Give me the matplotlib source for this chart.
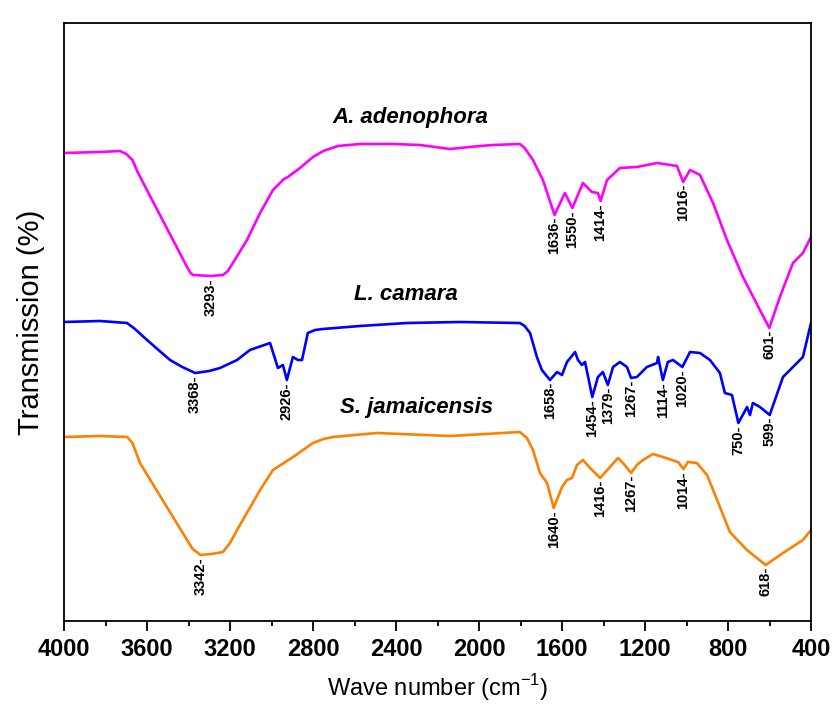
import numpy as np
from matplotlib import pyplot as plt
from matplotlib.ticker import MultipleLocator, NullLocator

plt.rcParams['font.family'] = ['Liberation Sans', 'DejaVu Sans']

# A. adenophora
wn_a = [4000, 3827, 3730, 3700, 3670, 3643, 3407, 3390, 3378, 3293, 3234, 3210, 3186,
        3118, 3055, 2993, 2940, 2921, 2863, 2800, 2750, 2680, 2574, 2415, 2284, 2140,
        1995, 1933, 1803, 1780, 1740, 1692, 1636, 1586, 1550, 1499, 1456, 1427, 1414,
        1383, 1321, 1239, 1142, 1046, 1016, 983, 935, 872, 805, 728, 646, 601, 550,
        487, 439, 400]
t_a = [468, 469, 470, 467, 461, 448, 354, 348, 346, 345, 346, 350, 358,
       381, 408, 431, 442, 444, 453, 464, 470, 475, 477, 477, 476, 472,
       475, 476, 477, 473, 461, 441, 406, 428, 413, 438, 429, 428, 420,
       441, 453, 454, 458, 455, 439, 451, 446, 418, 381, 344, 311, 293, 324,
       358, 368, 384]
peaks_a = [3293, 1636, 1550, 1414, 1016, 601]

# L. camara
wn_l = [4000, 3827, 3696, 3658, 3600, 3489, 3430, 3368, 3300, 3248, 3166, 3104, 3007,
        2969, 2945, 2926, 2897, 2873, 2853, 2825, 2790, 2752, 2574, 2347, 2092, 1803,
        1780, 1754, 1721, 1697, 1658, 1624, 1600, 1576, 1537, 1523, 1504, 1489, 1454,
        1427, 1403, 1379, 1354, 1321, 1287, 1267, 1239, 1191, 1142, 1137, 1114, 1090,
        1065, 1046, 1020, 983, 935, 887, 839, 815, 781, 750, 708, 694, 680, 646, 599,
        535, 487, 439, 400]
t_l = [299, 300, 298, 292, 281, 261, 254, 248, 250, 253, 261, 271, 278,
       253, 256, 241, 264, 261, 261, 288, 291, 292, 295, 298, 299, 298,
       295, 288, 264, 251, 241, 249, 246, 259, 269, 261, 256, 259, 224,
       244, 249, 236, 254, 259, 254, 243, 244, 254, 258, 264, 241, 259,
       261, 258, 254, 269, 268, 261, 248, 228, 226, 198, 214, 206, 218, 214, 206,
       244, 254, 264, 298]
peaks_l = [3368, 2926, 1658, 1454, 1379, 1267, 1114, 1020, 750, 599]

# S. jamaicensis
wn_s = [4000, 3827, 3696, 3670, 3634, 3407, 3380, 3342, 3290, 3234, 3200, 3166, 3055,
        2993, 2896, 2800, 2750, 2704, 2492, 2140, 1803, 1769, 1740, 1706, 1672, 1640,
        1600, 1576, 1552, 1528, 1499, 1465, 1416, 1369, 1330, 1306, 1267, 1239, 1210,
        1162, 1114, 1041, 1014, 993, 950, 901, 839, 791, 709, 618, 535, 439, 400]
t_s = [184, 185, 184, 178, 158, 81, 72, 66, 67, 69, 78, 91, 131,
       151, 164, 178, 182, 184, 188, 185, 189, 183, 171, 148, 138, 113,
       134, 141, 143, 156, 161, 153, 143, 154, 163, 158, 148, 156, 161,
       167, 164, 159, 152, 159, 158, 146, 114, 89, 71, 56, 68, 81, 91]
peaks_s = [3342, 1640, 1416, 1267, 1014, 618]

series = [
    ('A. adenophora', wn_a, t_a, peaks_a, '#FF00FF', (2330, 504)),
    ('L. camara', wn_l, t_l, peaks_l, '#0000FF', (2350, 327)),
    ('S. jamaicensis', wn_s, t_s, peaks_s, '#FF8000', (2300, 213)),
]

fig = plt.figure(figsize=(8.35, 7.19), dpi=100)
ax = fig.add_axes([64/835, 1-621/719, (811-64)/835, (621-23)/719])

for name, wn, t, peaks, color, pos in series:
    ax.plot(wn, t, color=color, lw=1.9, solid_joinstyle='round')
    for p in peaks:
        yv = np.interp(p, wn[::-1], t[::-1])
        ax.annotate(f"{p}-", (p, yv), xytext=(0, -1.5), textcoords='offset points',
                    rotation=90, ha='center', va='top', fontsize=10.5,
                    fontweight='bold')
    ax.text(pos[0], pos[1], name, ha='center', va='center', fontsize=16,
            fontweight='bold', fontstyle='italic')

ax.set_xlim(4000, 400)
ax.set_ylim(0, 598)
ax.xaxis.set_major_locator(MultipleLocator(400))
ax.xaxis.set_minor_locator(MultipleLocator(200))
ax.yaxis.set_major_locator(NullLocator())
ax.tick_params(axis='x', which='major', direction='out', length=7, width=1.3,
               labelsize=17, pad=5)
ax.tick_params(axis='x', which='minor', direction='out', length=3.5, width=1.3)
for lbl in ax.get_xticklabels():
    lbl.set_fontweight('bold')
for s in ax.spines.values():
    s.set_linewidth(1.3)

ax.set_xlabel('Wave number (cm$^{\\mathregular{-1}}$)', fontsize=17, labelpad=8)
ax.set_ylabel('Transmission (%)', fontsize=21, labelpad=14)

fig.savefig('out.png', dpi=100)
